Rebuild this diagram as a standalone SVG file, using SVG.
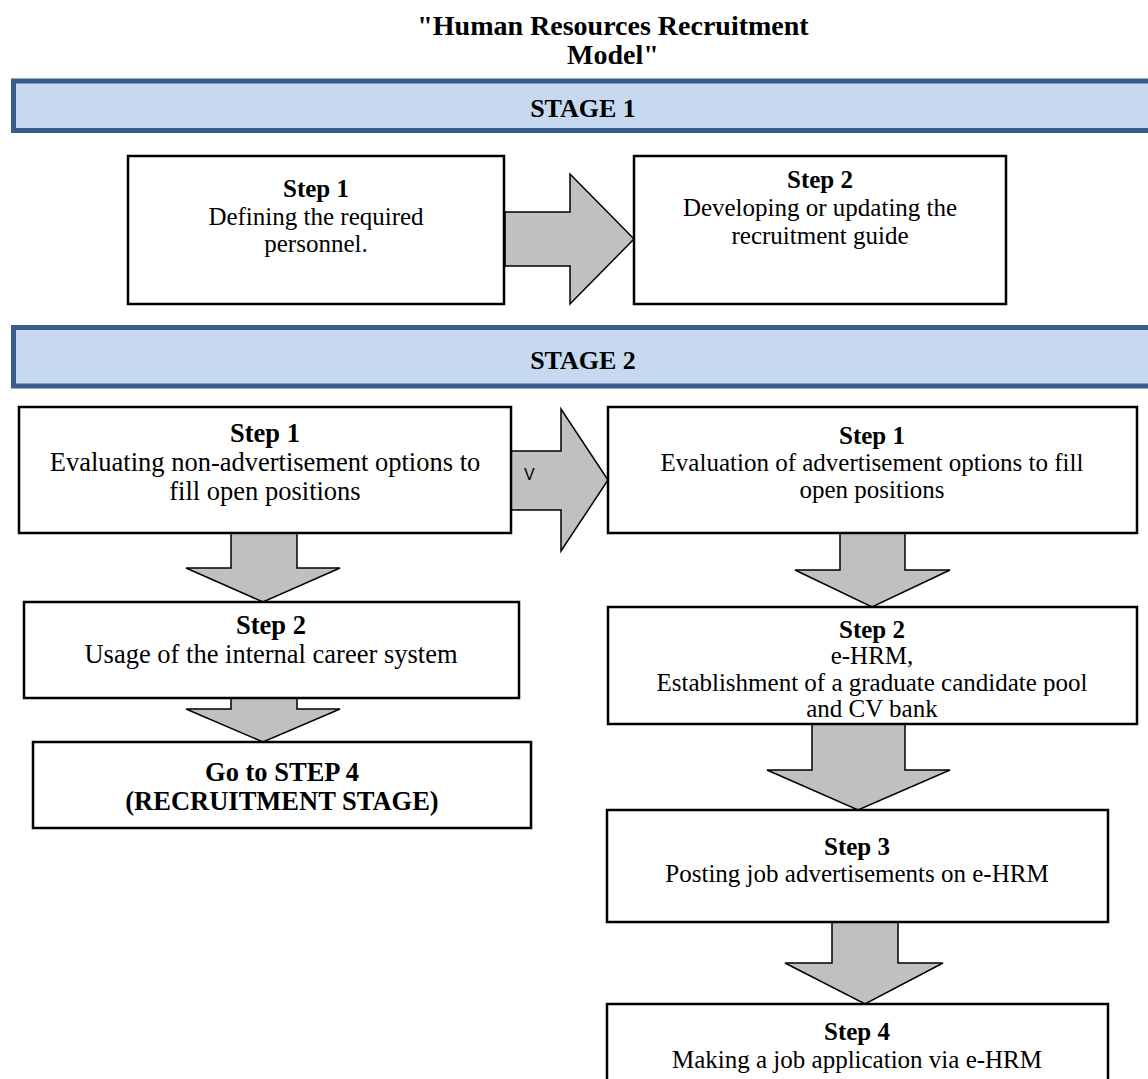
<svg xmlns="http://www.w3.org/2000/svg" width="1148" height="1079" viewBox="0 0 1148 1079">
  <style>
    .title { font-family: "Liberation Serif", "Times New Roman", serif; font-size: 28px; font-weight: bold; fill: #000; text-anchor: middle; }
    .stage { font-family: "Liberation Serif", "Times New Roman", serif; font-size: 26px; font-weight: bold; fill: #000; text-anchor: middle; }
    .band { fill: #C6D9F1; stroke: #385D8A; stroke-width: 5; }
    .box { fill: #FFFFFF; stroke: #000; stroke-width: 2.5; }
    .arrow { fill: #C0C0C0; stroke: #000; stroke-width: 1.5; stroke-linejoin: miter; }
    .hd { font-family: "Liberation Serif", "Times New Roman", serif; font-size: 25px; font-weight: bold; fill: #000; text-anchor: middle; }
    .tx { font-family: "Liberation Serif", "Times New Roman", serif; font-size: 25px; fill: #000; text-anchor: middle; }
    .big { font-size: 26.5px; }
    .mark { font-family: "Liberation Sans", Arial, sans-serif; font-size: 16px; fill: #000; }
  </style>
  <rect width="1148" height="1079" fill="#FFFFFF"/>

  <!-- Title -->
  <g id="title">
    <text class="title" x="613" y="35">"Human Resources Recruitment</text>
    <text class="title" x="613" y="64">Model"</text>
  </g>

  <!-- Stage banners -->
  <g id="stage1">
    <rect class="band" x="13.5" y="81" width="1160" height="49.5"/>
    <text class="stage" x="583" y="117">STAGE 1</text>
  </g>
  <g id="stage2">
    <rect class="band" x="13.5" y="327.5" width="1160" height="58.5"/>
    <text class="stage" x="583" y="369">STAGE 2</text>
  </g>

  <!-- Connectors (block arrows) -->
  <g id="connectors">
    <path class="arrow" d="M505,212 H570 V174 L634,239 L570,304 V266 H505 Z"/>
    <path class="arrow" d="M511,451 H561 V409 L608,480 L561,551 V510 H511 Z"/>
    <text class="mark" x="524" y="480">V</text>
    <path class="arrow" d="M231,533 V568 H186 L263,602 L340,568 H297 V533 Z"/>
    <path class="arrow" d="M231,698 V709 H186 L263,742 L340,709 H297 V698 Z"/>
    <path class="arrow" d="M840,533 V570 H795 L872,607 L950,570 H905 V533 Z"/>
    <path class="arrow" d="M812,724 V770 H767 L858,810 L950,770 H905 V724 Z"/>
    <path class="arrow" d="M832,922 V963 H785 L865,1004 L943,963 H898 V922 Z"/>
  </g>

  <!-- Stage 1 steps -->
  <g id="s1-step1">
    <rect class="box" x="128" y="156" width="376" height="148"/>
    <text class="hd" x="316" y="197">Step 1</text>
    <text class="tx" x="316" y="225">Defining the required</text>
    <text class="tx" x="316" y="252">personnel.</text>
  </g>
  <g id="s1-step2">
    <rect class="box" x="634" y="156" width="372" height="148"/>
    <text class="hd" x="820" y="188">Step 2</text>
    <text class="tx" x="820" y="216">Developing or updating the</text>
    <text class="tx" x="820" y="244">recruitment guide</text>
  </g>

  <!-- Stage 2, left column -->
  <g id="s2-left-step1">
    <rect class="box" x="19" y="407" width="492" height="126"/>
    <text class="hd big" x="265" y="442">Step 1</text>
    <text class="tx big" x="265" y="471">Evaluating non-advertisement options to</text>
    <text class="tx big" x="265" y="500">fill open positions</text>
  </g>
  <g id="s2-left-step2">
    <rect class="box" x="24" y="602" width="495" height="96"/>
    <text class="hd big" x="271" y="634">Step 2</text>
    <text class="tx big" x="271" y="663">Usage of the internal career system</text>
  </g>
  <g id="s2-left-goto">
    <rect class="box" x="33" y="742" width="498" height="86"/>
    <text class="hd big" x="282" y="781">Go to STEP 4</text>
    <text class="hd big" x="282" y="810">(RECRUITMENT STAGE)</text>
  </g>

  <!-- Stage 2, right column -->
  <g id="s2-right-step1">
    <rect class="box" x="608" y="407" width="529" height="126"/>
    <text class="hd" x="872" y="444">Step 1</text>
    <text class="tx" x="872" y="471">Evaluation of advertisement options to fill</text>
    <text class="tx" x="872" y="498">open positions</text>
  </g>
  <g id="s2-right-step2">
    <rect class="box" x="608" y="607" width="529" height="117"/>
    <text class="hd" x="872" y="638">Step 2</text>
    <text class="tx" x="872" y="664">e-HRM,</text>
    <text class="tx" x="872" y="691">Establishment of a graduate candidate pool</text>
    <text class="tx" x="872" y="717">and CV bank</text>
  </g>
  <g id="s2-right-step3">
    <rect class="box" x="607" y="810" width="501" height="112"/>
    <text class="hd" x="857" y="855">Step 3</text>
    <text class="tx" x="857" y="882">Posting job advertisements on e-HRM</text>
  </g>
  <g id="s2-right-step4">
    <rect class="box" x="607" y="1004" width="501" height="90"/>
    <text class="hd" x="857" y="1040">Step 4</text>
    <text class="tx" x="857" y="1068">Making a job application via e-HRM</text>
  </g>
</svg>
